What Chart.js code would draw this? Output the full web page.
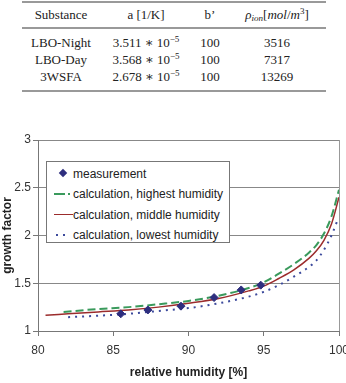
<!DOCTYPE html>
<html>
<head>
<meta charset="utf-8">
<script src="https://cdn.jsdelivr.net/npm/chart.js@4"></script>
<style>
  body { margin: 0; width: 346px; height: 383px; background: #fff; position: relative; overflow: hidden; }
  #tabela { position: absolute; left: 22px; top: 1px; width: 304px; border-collapse: collapse;
            font-family: "Liberation Serif", "DejaVu Serif", serif; font-size: 13px; color: #222;
            border-top: 2px solid #999; border-bottom: 2px solid #999; }
  #tabela th { font-weight: normal; height: 24px; padding: 0; border-bottom: 2px solid #999; }
  #tabela td { padding: 0; height: 17px; text-align: center; line-height: 17px; }
  #tabela tr.primeira td { padding-top: 5px; }
  #tabela tr.ultima td { padding-bottom: 5px; }
  #tabela sup { font-size: 9px; vertical-align: 5px; line-height: 0; }
  #tabela sub { font-size: 9px; vertical-align: -2px; line-height: 0; }
  #grafico { position: absolute; left: 0; top: 128px; }
  #legenda { position: absolute; left: 46px; top: 161px; width: 182px; height: 80px; background: #fff;
             border: 1px solid #777; font-family: "Liberation Sans", Arial, sans-serif; font-size: 12px; color: #222; }
  .item { position: absolute; left: 0; height: 14px; line-height: 14px; white-space: nowrap; }
  .item span.txt { position: absolute; left: 26px; top: 0; }
  .simbolo { position: absolute; top: 6px; }
</style>
</head>
<body>

<table id="tabela">
  <colgroup><col style="width:78px"><col style="width:92px"><col style="width:36px"><col style="width:98px"></colgroup>
  <thead>
    <tr><th>Substance</th><th>a [1/K]</th><th>b’</th><th><i>ρ<sub>ion</sub></i>[<i>mol</i>/<i>m</i><sup>3</sup>]</th></tr>
  </thead>
  <tbody id="corpo"></tbody>
</table>

<canvas id="grafico" width="346" height="255"></canvas>

<div id="legenda"></div>

<script>
// tabela de parametros
const substancias = ['LBO-Night', 'LBO-Day', '3WSFA'];
const coefA = ['3.511', '3.568', '2.678'];
const coefB = [100, 100, 100];
const rhoIon = [3516, 7317, 13269];

// medicoes
const umidMedida = [85.5, 87.3, 89.5, 91.7, 93.5, 94.8];
const fatorMedido = [1.18, 1.22, 1.26, 1.35, 1.43, 1.48];

// calculo, umidade mais alta
const umidAlta = [81.7, 84, 86, 88, 90, 92, 94, 95, 96, 97, 98, 98.5, 99, 99.5, 100];
const fatorAlta = [1.20, 1.23, 1.25, 1.28, 1.315, 1.37, 1.45, 1.51, 1.60, 1.70, 1.82, 1.90, 2.02, 2.20, 2.48];

// calculo, umidade media
const umidMedia = [80.5, 82, 84, 86, 88, 90, 92, 94, 95, 96, 97, 98, 98.5, 99, 99.5, 100];
const fatorMedia = [1.165, 1.18, 1.20, 1.22, 1.25, 1.29, 1.34, 1.42, 1.47, 1.55, 1.64, 1.76, 1.84, 1.95, 2.12, 2.40];

// calculo, umidade mais baixa
const umidBaixa = [82, 84, 86, 88, 90, 92, 94, 95, 96, 97, 98, 98.5, 99, 99.5, 99.9];
const fatorBaixa = [1.145, 1.16, 1.18, 1.21, 1.24, 1.29, 1.36, 1.41, 1.48, 1.57, 1.67, 1.74, 1.85, 2.00, 2.16];

const nomesSeries = ['measurement', 'calculation, highest humidity', 'calculation, middle humidity', 'calculation, lowest humidity'];
const ticksX = [80, 85, 90, 95, 100];
const ticksY = [1, 1.5, 2, 2.5, 3];

const corpo = document.getElementById('corpo');
substancias.forEach(function (s, i) {
    const tr = document.createElement('tr');
    if (i === 0) tr.className = 'primeira';
    if (i === substancias.length - 1) tr.className = 'ultima';
    tr.innerHTML = '<td>' + s + '</td><td>' + coefA[i] + ' ∗ 10<sup>−5</sup></td><td>' + coefB[i] + '</td><td>' + rhoIon[i] + '</td>';
    corpo.appendChild(tr);
});

function pares(xs, ys) {
    return xs.map((x, i) => ({ x: x, y: ys[i] }));
}

const corMedida = '#2e2e7e';
const corAlta = '#3a9a5c';
const corMedia = '#9b2c2c';
const corBaixa = '#3c4a9c';

const ctx = document.getElementById('grafico');

new Chart(ctx, {
    type: 'scatter',
    data: {
        datasets: [
            {
                label: nomesSeries[0],
                data: pares(umidMedida, fatorMedido),
                pointStyle: 'rectRot',
                pointRadius: 4,
                backgroundColor: corMedida,
                borderColor: corMedida,
                showLine: false,
                order: 0
            },
            {
                label: nomesSeries[1],
                data: pares(umidAlta, fatorAlta),
                showLine: true,
                borderColor: corAlta,
                borderWidth: 2,
                borderDash: [8, 4],
                pointRadius: 0,
                cubicInterpolationMode: 'monotone',
                order: 1
            },
            {
                label: nomesSeries[2],
                data: pares(umidMedia, fatorMedia),
                showLine: true,
                borderColor: corMedia,
                borderWidth: 1.5,
                pointRadius: 0,
                cubicInterpolationMode: 'monotone',
                order: 2
            },
            {
                label: nomesSeries[3],
                data: pares(umidBaixa, fatorBaixa),
                showLine: true,
                borderColor: corBaixa,
                borderWidth: 2,
                borderDash: [2, 5],
                pointRadius: 0,
                cubicInterpolationMode: 'monotone',
                order: 3
            }
        ]
    },
    options: {
        responsive: false,
        animation: false,
        events: [],
        layout: { padding: { top: 12, right: 7, left: 0, bottom: 0 } },
        plugins: {
            legend: { display: false },
            tooltip: { enabled: false }
        },
        scales: {
            x: {
                type: 'linear',
                min: 80,
                max: 100,
                afterBuildTicks: function (s) { s.ticks = ticksX.map(v => ({ value: v })); },
                afterFit: function (s) { s.height = 52; s.paddingLeft = 0; s.paddingRight = 0; },
                ticks: { color: '#333', font: { family: 'Liberation Sans', size: 12 }, padding: 7, maxRotation: 0,
                         callback: v => String(v) },
                grid: {
                    color: c => (c.tick && c.tick.value === 100) ? '#999' : 'rgba(0,0,0,0)',
                    tickColor: '#777',
                    tickLength: 5
                },
                border: { color: '#777', width: 1 },
                title: {
                    display: true,
                    text: 'relative humidity [%]',
                    color: '#222',
                    font: { family: 'Liberation Sans', size: 12, weight: 'bold' },
                    padding: { top: 0, bottom: 3 }
                }
            },
            y: {
                min: 1,
                max: 3,
                afterBuildTicks: function (s) { s.ticks = ticksY.map(v => ({ value: v })); },
                ticks: { color: '#333', font: { family: 'Liberation Sans', size: 12 }, padding: 2,
                         callback: v => String(v) },
                afterFit: function (s) { s.width = 38; s.paddingTop = 0; s.paddingBottom = 0; },
                grid: { color: '#888', tickColor: '#777', tickLength: 5 },
                border: { color: '#777', width: 1 },
                title: {
                    display: true,
                    text: 'growth factor',
                    color: '#222',
                    font: { family: 'Liberation Sans', size: 12, weight: 'bold' },
                    padding: { top: 0, bottom: 0 }
                }
            }
        }
    }
});

// legenda dentro da area do grafico
const legenda = document.getElementById('legenda');
const linhasY = [5, 25, 46, 66];
const simbolos = [
    '<div class="simbolo" style="left:13px;top:3px;width:6px;height:6px;background:' + corMedida + ';transform:rotate(45deg)"></div>',
    '<div class="simbolo" style="left:7px;width:11px;border-top:2px solid ' + corAlta + '"></div><div class="simbolo" style="left:21px;width:2px;border-top:2px solid ' + corAlta + '"></div>',
    '<div class="simbolo" style="left:7px;width:19px;border-top:1.5px solid ' + corMedia + '"></div>',
    '<div class="simbolo" style="left:9px;width:2px;border-top:2px solid ' + corBaixa + '"></div><div class="simbolo" style="left:16px;width:2px;border-top:2px solid ' + corBaixa + '"></div>'
];
nomesSeries.forEach(function (nome, i) {
    const item = document.createElement('div');
    item.className = 'item';
    item.style.top = linhasY[i] + 'px';
    item.innerHTML = simbolos[i] + '<span class="txt">' + nome + '</span>';
    legenda.appendChild(item);
});
</script>
</body>
</html>
